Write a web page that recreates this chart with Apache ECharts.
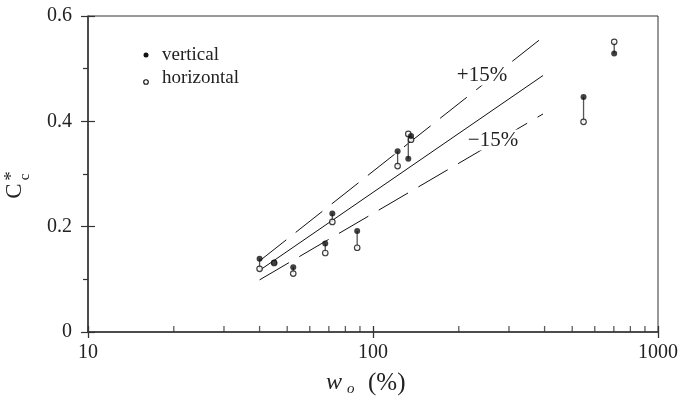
<!DOCTYPE html>
<html><head><meta charset="utf-8">
<script src="https://cdn.jsdelivr.net/npm/echarts@6/dist/echarts.min.js"></script>
<style>html,body{margin:0;padding:0;background:#fff}#c{width:681px;height:397px}</style>
</head><body><div id="c"></div>
<script>
// ---- data ----
const woPct      = [40, 45, 52.5, 68, 72, 88, 122, 133, 136, 548, 702];
const vertical   = [0.139, 0.132, 0.123, 0.168, 0.225, 0.192, 0.343, 0.329, 0.372, 0.446, 0.529];
const horizontal = [0.120, 0.131, 0.111, 0.150, 0.209, 0.160, 0.315, 0.376, 0.365, 0.399, 0.551];
const fitW   = [40, 395];
const fitC   = [0.117, 0.487];
const plusC  = [0.135, 0.560];
const minusC = [0.099, 0.414];
const xMinorTicks = [20, 30, 40, 50, 60, 70, 80, 90, 200, 300, 400, 500, 600, 700, 800, 900];
const legendNames = ['vertical', 'horizontal'];
const bandLabels = ['+15%', '\u221215%'];

const FONT = '"Liberation Serif", "Times New Roman", serif';
const INK = '#222';
const chart = echarts.init(document.getElementById('c'), null, {renderer: 'canvas'});

const xBase = {type: 'log', logBase: 10, min: 10, max: 1000, gridIndex: 0};
const yBase = {type: 'value', min: 0, max: 0.6, interval: 0.2, gridIndex: 0};

chart.setOption({
  animation: false,
  backgroundColor: '#fff',
  grid: {left: 88, right: 20, top: 16, bottom: 65, show: true, borderColor: '#333', borderWidth: 1, backgroundColor: 'transparent'},
  xAxis: [
    Object.assign({}, xBase, {
      position: 'bottom',
      axisLine: {show: true, lineStyle: {color: '#333', width: 1.5}},
      axisTick: {show: true, inside: false, length: 6, lineStyle: {color: '#333', width: 1.3}},
      minorTick: {show: false},
      splitLine: {show: false},
      axisLabel: {show: true, margin: 11, color: INK, fontFamily: FONT, fontSize: 20,
        formatter: v => String(Math.round(v))}
    }),
    Object.assign({}, xBase, {
      position: 'bottom',
      axisLine: {show: false},
      axisTick: {show: true, inside: true, length: 6, lineStyle: {color: '#333', width: 1.3}},
      splitLine: {show: false},
      axisLabel: {show: false}
    })
  ],
  yAxis: [
    Object.assign({}, yBase, {
      position: 'left',
      axisLine: {show: true, lineStyle: {color: '#333', width: 1.5}},
      axisTick: {show: true, inside: false, length: 7, lineStyle: {color: '#333', width: 1.2}},
      minorTick: {show: true, splitNumber: 2, length: 5, lineStyle: {color: '#333', width: 1.2}},
      splitLine: {show: false},
      axisLabel: {show: true, margin: 16, color: INK, fontFamily: FONT, fontSize: 20,
        formatter: v => (v === 0 ? '0' : v.toFixed(1))}
    }),
    Object.assign({}, yBase, {
      position: 'left',
      axisLine: {show: false},
      axisTick: {show: true, inside: true, length: 7, lineStyle: {color: '#333', width: 1.2}},
      splitLine: {show: false},
      axisLabel: {show: false}
    })
  ],
  series: [
    {type: 'scatter', name: 'minorTicksX', xAxisIndex: 0, yAxisIndex: 0, silent: true, clip: false,
     symbol: 'rect', symbolSize: [1.3, 6], symbolOffset: [0, -3],
     itemStyle: {color: '#333'}, data: xMinorTicks.map(t => [t, 0]), z: 1},
    {type: 'line', name: 'fit', silent: true, symbol: 'none',
     lineStyle: {color: '#111', width: 1}, data: fitW.map((w, i) => [w, fitC[i]]), z: 2},
    {type: 'line', name: 'plus', silent: true, symbol: 'none',
     lineStyle: {color: '#111', width: 1, type: [34, 12]}, data: fitW.map((w, i) => [w, plusC[i]]), z: 2},
    {type: 'line', name: 'minus', silent: true, symbol: 'none',
     lineStyle: {color: '#111', width: 1, type: [34, 12]}, data: fitW.map((w, i) => [w, minusC[i]]), z: 2},
    {type: 'custom', name: 'connectors', silent: true,
     data: woPct.map((w, i) => [w, vertical[i], horizontal[i]]),
     renderItem: (params, api) => {
       const p1 = api.coord([api.value(0), api.value(1)]);
       const p2 = api.coord([api.value(0), api.value(2)]);
       return {type: 'line', shape: {x1: p1[0], y1: p1[1], x2: p2[0], y2: p2[1]},
               style: {stroke: '#555', lineWidth: 1.3}};
     }, z: 3},
    {type: 'scatter', name: legendNames[1], symbol: 'circle', symbolSize: 5.5,
     itemStyle: {color: '#fff', borderColor: '#111', borderWidth: 1.2},
     data: woPct.map((w, i) => [w, horizontal[i]]), z: 4},
    {type: 'scatter', name: legendNames[0], symbol: 'circle', symbolSize: 6,
     itemStyle: {color: '#111'},
     data: woPct.map((w, i) => [w, vertical[i]]), z: 5}
  ],
  graphic: [
    // legend
    {type: 'circle', shape: {cx: 146, cy: 55, r: 2.5}, style: {fill: '#111'}},
    {type: 'circle', shape: {cx: 146, cy: 82, r: 2.3}, style: {fill: '#fff', stroke: '#111', lineWidth: 1.1}},
    {type: 'text', x: 162, y: 55, style: {text: legendNames[0], fontFamily: FONT, fontSize: 19, fill: INK, align: 'left', verticalAlign: 'middle'}},
    {type: 'text', x: 162, y: 78, style: {text: legendNames[1], fontFamily: FONT, fontSize: 19, fill: INK, align: 'left', verticalAlign: 'middle'}},
    // band labels
    {type: 'text', x: 482, y: 75, z: 10, style: {text: bandLabels[0], fontFamily: FONT, fontSize: 21, fill: INK, align: 'center', verticalAlign: 'middle', backgroundColor: '#fff', padding: [0, 2]}},
    {type: 'text', x: 493, y: 140, z: 10, style: {text: bandLabels[1], fontFamily: FONT, fontSize: 21, fill: INK, align: 'center', verticalAlign: 'middle', backgroundColor: '#fff', padding: [0, 2]}},
    // y axis name  C_c*
    {type: 'text', x: 15, y: 191, rotation: Math.PI / 2, style: {text: 'C', fontFamily: FONT, fontSize: 23, fill: INK, align: 'center', verticalAlign: 'middle'}},
    {type: 'text', x: 12, y: 176, rotation: Math.PI / 2, style: {text: '*', fontFamily: FONT, fontSize: 19, fill: INK, align: 'center', verticalAlign: 'middle'}},
    {type: 'text', x: 25, y: 177, rotation: Math.PI / 2, style: {text: 'c', fontFamily: FONT, fontSize: 15, fill: INK, align: 'center', verticalAlign: 'middle'}},
    // x axis name  w_o (%)
    {type: 'text', x: 326, y: 383, style: {text: 'w', fontFamily: FONT, fontStyle: 'italic', fontSize: 24, fill: INK, align: 'left', verticalAlign: 'middle'}},
    {type: 'text', x: 347, y: 389, style: {text: 'o', fontFamily: FONT, fontStyle: 'italic', fontSize: 15, fill: INK, align: 'left', verticalAlign: 'middle'}},
    {type: 'text', x: 368, y: 383, style: {text: '(%)', fontFamily: FONT, fontSize: 25, fill: INK, align: 'left', verticalAlign: 'middle'}}
  ]
});
</script>
</body></html>
